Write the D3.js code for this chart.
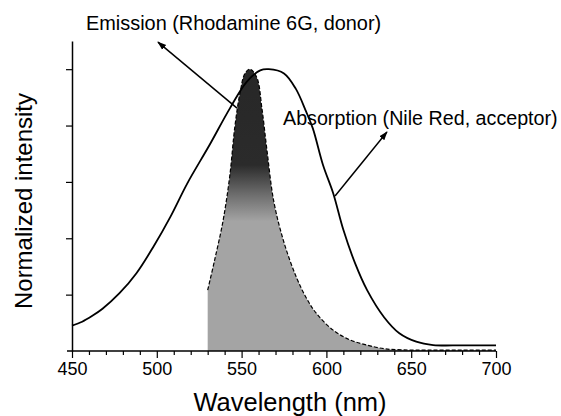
<!DOCTYPE html>
<html>
<head>
<meta charset="utf-8">
<script src="https://cdn.jsdelivr.net/npm/d3@7"></script>
<style>
  body { margin: 0; background: #fff; }
  svg { font-family: Arial, "Liberation Sans", sans-serif; }
</style>
</head>
<body>
<svg id="chart"></svg>
<script>
// absorption of Nile Red (acceptor), normalized
var absWl  = [450, 456, 462, 468, 478, 488, 498, 508, 518, 531, 543, 553, 561, 566, 575, 582, 588, 592, 598, 604, 610, 617, 624, 634, 643, 653, 663, 680, 700];
var absVal = [0.09, 0.104, 0.125, 0.15, 0.205, 0.276, 0.37, 0.476, 0.595, 0.73, 0.86, 0.955, 0.996, 1.0, 0.985, 0.93, 0.85, 0.79, 0.66, 0.56, 0.43, 0.31, 0.216, 0.12, 0.063, 0.033, 0.021, 0.02, 0.02];

// emission of Rhodamine 6G (donor), normalized
var emWl  = [530, 534, 539, 543, 546, 549, 552, 555, 559, 562, 565, 569, 575, 582, 588, 594, 604, 614, 624, 634, 645, 660, 680, 700];
var emVal = [0.216, 0.32, 0.46, 0.62, 0.795, 0.914, 0.985, 1.0, 0.97, 0.86, 0.71, 0.53, 0.385, 0.266, 0.19, 0.134, 0.074, 0.039, 0.021, 0.008, 0.004, 0.003, 0.003, 0.003];

var xTicks = d3.range(450, 701, 10);
var xLabels = [450, 500, 550, 600, 650, 700];
var yTicks = [0.2, 0.4, 0.6, 0.8, 1.0];

var margin = {top: 41, right: 65, bottom: 65, left: 72};
var W = 561, H = 416;
var width = W - margin.left - margin.right;
var height = H - margin.top - margin.bottom;

var svg = d3.select("#chart").attr("width", W).attr("height", H);
var g = svg.append("g").attr("transform", "translate(" + margin.left + "," + margin.top + ")");

var x = d3.scaleLinear().domain([450, 700]).range([0, width]);
var y = d3.scaleLinear().domain([0, 1.1]).range([height, 0]);

var absData = absWl.map(function(d, i) { return {wl: d, v: absVal[i]}; });
var emData = emWl.map(function(d, i) { return {wl: d, v: emVal[i]}; });

// gradient: dark at top of emission band, light grey below
var defs = svg.append("defs");
var grad = defs.append("linearGradient")
    .attr("id", "emGrad")
    .attr("gradientUnits", "userSpaceOnUse")
    .attr("x1", 0).attr("x2", 0)
    .attr("y1", y(1.0)).attr("y2", y(0));
grad.append("stop").attr("offset", 0).attr("stop-color", "#272727");
grad.append("stop").attr("offset", 0.34).attr("stop-color", "#2b2b2b");
grad.append("stop").attr("offset", 0.44).attr("stop-color", "#6a6a6a");
grad.append("stop").attr("offset", 0.54).attr("stop-color", "#a4a4a4");
grad.append("stop").attr("offset", 1).attr("stop-color", "#a4a4a4");

defs.append("marker")
    .attr("id", "arrow")
    .attr("viewBox", "0 0 10 10")
    .attr("refX", 9).attr("refY", 5)
    .attr("markerWidth", 9).attr("markerHeight", 9)
    .attr("markerUnits", "userSpaceOnUse")
    .attr("orient", "auto")
  .append("path")
    .attr("d", "M0,1.5L10,5L0,8.5Z")
    .attr("fill", "#000");

var curve = d3.curveCatmullRom.alpha(0.5);

var area = d3.area()
    .x(function(d) { return x(d.wl); })
    .y0(y(0))
    .y1(function(d) { return y(d.v); })
    .curve(curve);

var line = d3.line()
    .x(function(d) { return x(d.wl); })
    .y(function(d) { return y(d.v); })
    .curve(curve);

g.append("path")
    .datum(emData)
    .attr("d", area)
    .attr("fill", "url(#emGrad)");

g.append("path")
    .datum(emData)
    .attr("d", line)
    .attr("fill", "none")
    .attr("stroke", "#000")
    .attr("stroke-width", 1.2)
    .attr("stroke-dasharray", "4,2");

g.append("path")
    .datum(absData)
    .attr("d", line)
    .attr("fill", "none")
    .attr("stroke", "#000")
    .attr("stroke-width", 1.8);

// axes
var xAxis = d3.axisBottom(x)
    .tickValues(xTicks)
    .tickSizeOuter(0)
    .tickFormat(function(d) { return xLabels.indexOf(d) >= 0 ? d : ""; });

var gx = g.append("g")
    .attr("transform", "translate(0," + height + ")")
    .call(xAxis);
gx.select(".domain").attr("d", "M-5,0H" + width).attr("stroke-width", 1.5);
gx.selectAll(".tick line")
    .attr("y2", function(d) { return xLabels.indexOf(d) >= 0 ? 7 : 4; })
    .attr("stroke-width", 1.2);
gx.selectAll(".tick text")
    .attr("y", 11)
    .attr("font-size", 18)
    .attr("font-family", "Arial, 'Liberation Sans', sans-serif")
    .attr("fill", "#000");

var yAxis = d3.axisLeft(y)
    .tickValues(yTicks)
    .tickSize(6)
    .tickSizeOuter(0)
    .tickFormat("");

var gy = g.append("g").call(yAxis);
gy.select(".domain").attr("stroke-width", 1.5);
gy.selectAll(".tick line").attr("stroke-width", 1.2);

// axis titles
svg.append("text")
    .attr("x", 290)
    .attr("y", 411)
    .attr("text-anchor", "middle")
    .attr("font-size", 25.5)
    .text("Wavelength (nm)");

svg.append("text")
    .attr("transform", "translate(32," + (margin.top + height / 2 + 5) + ") rotate(-90)")
    .attr("text-anchor", "middle")
    .attr("font-size", 24)
    .text("Normalized intensity");

// annotations
g.append("line")
    .attr("x1", x(547.3)).attr("y1", y(0.862))
    .attr("x2", x(500.7)).attr("y2", y(1.096))
    .attr("stroke", "#000").attr("stroke-width", 1.5)
    .attr("marker-end", "url(#arrow)");

g.append("line")
    .attr("x1", x(605.1)).attr("y1", y(0.55))
    .attr("x2", x(635.7)).attr("y2", y(0.777))
    .attr("stroke", "#000").attr("stroke-width", 1.5)
    .attr("marker-end", "url(#arrow)");

svg.append("text")
    .attr("x", 86).attr("y", 30)
    .attr("font-size", 19.9)
    .text("Emission (Rhodamine 6G, donor)");

svg.append("text")
    .attr("x", 283).attr("y", 125)
    .attr("font-size", 19.7)
    .text("Absorption (Nile Red, acceptor)");
</script>
</body>
</html>
